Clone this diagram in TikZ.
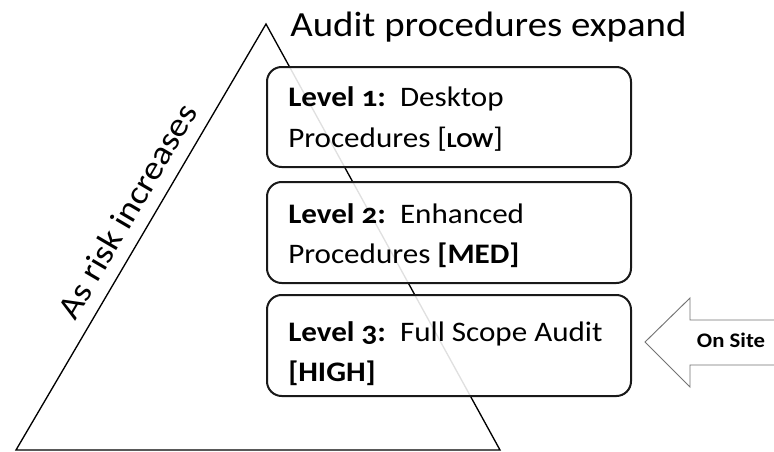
\documentclass[tikz,border=0pt]{standalone}
\usepackage{fontspec}
\setmainfont[Numbers=OldStyle,FakeStretch=1.1]{Carlito}
\begin{document}
\begin{tikzpicture}[x=0.75pt,y=-0.75pt,
  levelbox/.style={draw=black!90,line width=1.5pt,rounded corners=11pt,fill=white,fill opacity=0.88},
  leveltext/.style={anchor=base west,align=left,inner sep=0pt,font=\fontsize{21.2}{30}\selectfont},
  sidearrow/.style={draw=black!55,line width=0.7pt,fill=white}]
\useasboundingbox (0,0) rectangle (774,451);

% risk triangle
\coordinate (apex) at (266,24);
\coordinate (bl) at (16,450);
\coordinate (br) at (500,450);
\draw[line width=1pt] (apex) -- (br) -- (bl) -- cycle;

\node[anchor=base west,inner sep=0pt,font=\fontsize{26.5}{30}\selectfont] (title) at (290,36) {Audit procedures expand};
\node[rotate=59.6,inner sep=0pt,font=\fontsize{25}{30}\selectfont] (risk) at (127,211) {As risk increases};

% the three procedure levels
\draw[levelbox] (267,67) rectangle (631,167);
\draw[levelbox] (267,182) rectangle (631,283);
\draw[levelbox] (267,295) rectangle (631,396);

\node[leveltext] (l1a) at (288,106) {\textbf{Level 1:}\ \ Desktop};
\node[leveltext] (l1b) at (288,147) {Procedures [\textbf{\fontsize{16}{20}\selectfont LOW}]};
\node[leveltext] (l2a) at (288,223) {\textbf{Level 2:}\ \ Enhanced};
\node[leveltext] (l2b) at (288,263) {Procedures \textbf{[MED]}};
\node[leveltext] (l3a) at (288,341) {\textbf{Level 3:}\ \ Full Scope Audit};
\node[leveltext] (l3b) at (288,381) {\textbf{[HIGH]}};

% on-site arrow entering from the right edge
\draw[sidearrow] (774,320) -- (690,320) -- (690,298) -- (645,342) -- (690,387) -- (690,365) -- (774,365);
\node[font=\fontsize{15.5}{18}\selectfont\bfseries,inner sep=0pt] (onsite) at (731,340) {On Site};
\end{tikzpicture}
\end{document}
